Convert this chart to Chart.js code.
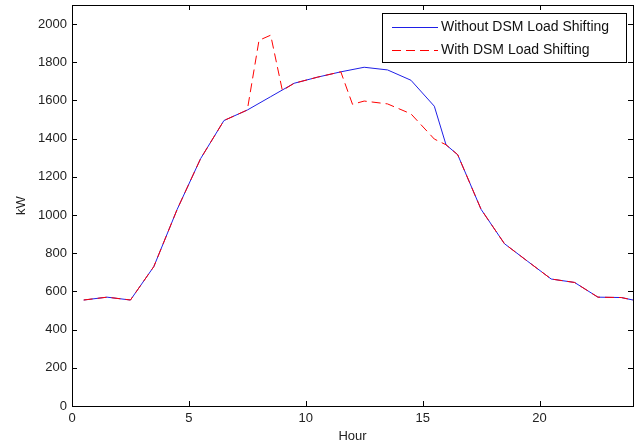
<!DOCTYPE html>
<html>
<head>
<meta charset="utf-8">
<script src="https://cdn.jsdelivr.net/npm/chart.js@4"></script>
<style>
  html, body { margin: 0; padding: 0; background: #fff; }
  #wrap { width: 637px; height: 448px; }
</style>
</head>
<body>
<div id="wrap"><canvas id="load-chart" width="637" height="448"></canvas></div>
<script>
// hours where the curves bend, and load in kW
const hoursBase = [0.5, 1.5, 2.5, 3.5, 4.5, 5.5, 6.5, 7.5, 8.5, 9.5, 10.5, 11.5, 12.5, 13.5, 14.5, 15.5, 16, 16.5, 17.5, 18.5, 19.5, 20.5, 21.5, 22.5, 23.5, 24];
const loadBase = [555, 570, 555, 730, 1030, 1295, 1495, 1550, 1620, 1690, 1722, 1750, 1774, 1760, 1706, 1570, 1368, 1316, 1030, 850, 757, 665, 647, 570, 568, 555];

const hoursDsm = [0.5, 1.5, 2.5, 3.5, 4.5, 5.5, 6.5, 7.5, 8, 8.5, 9, 9.5, 10.5, 11.5, 12, 12.5, 13.5, 14.5, 15.5, 16, 16.5, 17.5, 18.5, 19.5, 20.5, 21.5, 22.5, 23.5, 24];
const loadDsm = [555, 570, 555, 730, 1030, 1295, 1495, 1550, 1915, 1942, 1652, 1690, 1722, 1750, 1580, 1597, 1582, 1530, 1398, 1368, 1316, 1030, 850, 757, 665, 647, 570, 568, 555];

const seriesNames = ['Without DSM Load Shifting', 'With DSM Load Shifting'];
const xTicks = [0, 5, 10, 15, 20];
const yTicks = [0, 200, 400, 600, 800, 1000, 1200, 1400, 1600, 1800, 2000];

const FONT = 'Arial, "Liberation Sans", sans-serif';

function toPoints(xs, ys) {
  return xs.map((x, i) => ({ x: x, y: ys[i] }));
}

// matlab style frame, inward ticks on all sides, legend inside top right
const framePlugin = {
  id: 'frame',
  afterDraw(chart) {
    const ctx = chart.ctx;
    const a = chart.chartArea;
    const xs = chart.scales.x;
    const ys = chart.scales.y;
    const len = 5;
    ctx.save();
    ctx.strokeStyle = '#000';
    ctx.lineWidth = 1;
    ctx.beginPath();
    xTicks.forEach(v => {
      const px = Math.round(xs.getPixelForValue(v)) + 0.5;
      ctx.moveTo(px, a.bottom); ctx.lineTo(px, a.bottom - len);
      ctx.moveTo(px, a.top); ctx.lineTo(px, a.top + len);
    });
    yTicks.forEach(v => {
      const py = Math.round(ys.getPixelForValue(v)) + 0.5;
      ctx.moveTo(a.left, py); ctx.lineTo(a.left + len, py);
      ctx.moveTo(a.right, py); ctx.lineTo(a.right - len, py);
    });
    ctx.stroke();
    ctx.strokeRect(Math.round(a.left) + 0.5, Math.round(a.top) + 0.5,
      Math.round(a.right - a.left), Math.round(a.bottom - a.top));

    // legend box
    const bx = 382.5, by = 13.5, bw = 244, bh = 49;
    ctx.fillStyle = '#fff';
    ctx.fillRect(bx, by, bw, bh);
    ctx.strokeRect(bx, by, bw, bh);
    ctx.font = '14px ' + FONT;
    ctx.textBaseline = 'middle';
    ctx.fillStyle = '#111';
    const ds = chart.data.datasets;
    [27, 50].forEach((ry, i) => {
      ctx.strokeStyle = ds[i].borderColor;
      ctx.setLineDash(ds[i].borderDash || []);
      ctx.beginPath();
      ctx.moveTo(392, ry + 0.5);
      ctx.lineTo(438, ry + 0.5);
      ctx.stroke();
      ctx.setLineDash([]);
      ctx.fillText(seriesNames[i], 441, ry);
    });
    ctx.restore();
  }
};

const chart = new Chart(document.getElementById('load-chart'), {
  type: 'line',
  data: {
    datasets: [
      {
        label: seriesNames[0],
        data: toPoints(hoursBase, loadBase),
        borderColor: '#1f1fe6',
        borderWidth: 1,
        pointRadius: 0,
        tension: 0,
        order: 1
      },
      {
        label: seriesNames[1],
        data: toPoints(hoursDsm, loadDsm),
        borderColor: '#ff0000',
        borderWidth: 1,
        borderDash: [9, 5],
        pointRadius: 0,
        tension: 0,
        order: 0
      }
    ]
  },
  options: {
    responsive: false,
    animation: false,
    layout: { padding: { top: 5, right: 4, left: 0, bottom: 0 } },
    plugins: {
      legend: { display: false },
      tooltip: { enabled: false }
    },
    scales: {
      x: {
        type: 'linear',
        min: 0,
        max: 24,
        grid: { display: false, drawTicks: false },
        border: { display: false },
        afterFit: s => { s.height = 42; s.paddingLeft = 0; s.paddingRight = 0; },
        afterBuildTicks: s => { s.ticks = xTicks.map(v => ({ value: v })); },
        ticks: { padding: 5, color: '#222', font: { size: 13, family: FONT } },
        title: { display: true, text: 'Hour', color: '#222', padding: { top: 2 }, font: { size: 13, family: FONT } }
      },
      y: {
        min: 0,
        max: 2100,
        grid: { display: false, drawTicks: false },
        border: { display: false },
        afterFit: s => { s.width = 72; s.paddingTop = 0; s.paddingBottom = 0; },
        afterBuildTicks: s => { s.ticks = yTicks.map(v => ({ value: v })); },
        ticks: {
          padding: 5,
          color: '#222',
          font: { size: 13, family: FONT },
          callback: v => String(v)
        },
        title: { display: true, text: 'kW', color: '#222', padding: { top: 14, bottom: 4 }, font: { size: 13, family: FONT } }
      }
    }
  },
  plugins: [framePlugin]
});
</script>
</body>
</html>
